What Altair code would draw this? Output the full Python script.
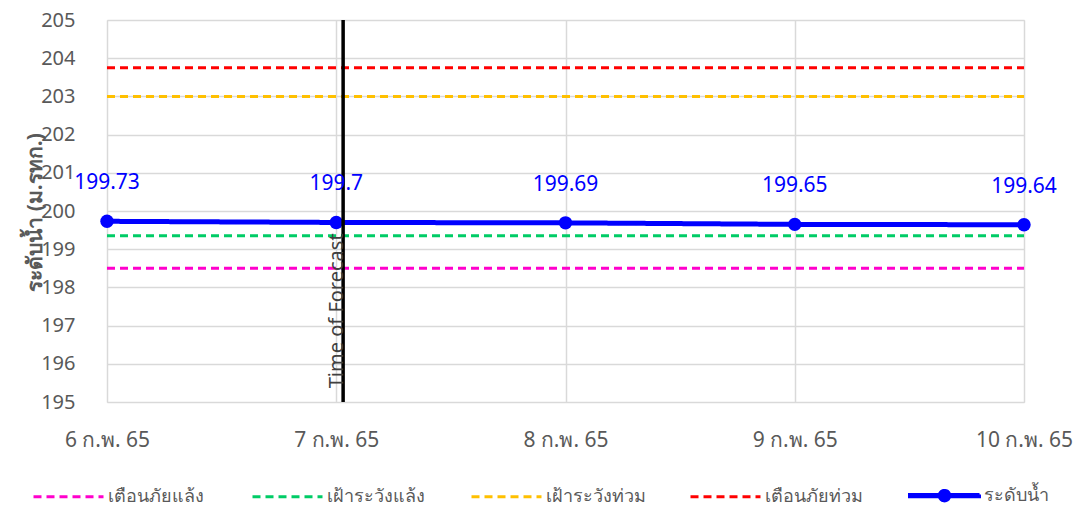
import altair as alt
import pandas as pd

# ---- data ----
days = [6, 7, 8, 9, 10]
day_labels = ["6 ก.พ. 65", "7 ก.พ. 65", "8 ก.พ. 65", "9 ก.พ. 65", "10 ก.พ. 65"]
water_level = [199.73, 199.7, 199.69, 199.65, 199.64]

threshold_names = ["เตือนภัยแล้ง", "เฝ้าระวังแล้ง", "เฝ้าระวังท่วม", "เตือนภัยท่วม"]
threshold_values = [198.5, 199.35, 203.0, 203.75]
water_name = "ระดับน้ำ"
series_colors = ["#FF00CC", "#00CC66", "#FFC000", "#FF0000", "#0000FF"]
forecast_time = [7.03]
forecast_label = ["Time of Forecast"]

# ---- tables ----
rows = []
for n, v in zip(threshold_names, threshold_values):
    for d in (days[0], days[-1]):
        rows.append({"series": n, "day": d, "value": v})
thr_df = pd.DataFrame(rows)
water_df = pd.DataFrame({"series": water_name, "day": days, "value": water_level,
                         "label": [str(v) for v in water_level]})
fc_df = pd.DataFrame({"day": forecast_time, "label": forecast_label, "value": [195.36]})

domain = threshold_names + [water_name]
label_expr = "{" + ",".join(f"'{d}':'{l}'" for d, l in zip(days, day_labels)) + "}[datum.value]"

FONT = "Noto Sans"
GREY = "#595959"

xs = alt.X("day:Q", scale=alt.Scale(domain=[6, 10], nice=False),
           axis=alt.Axis(values=days, labelExpr=label_expr, title=None, ticks=False,
                         domain=False, labelFontSize=21, labelColor=GREY, labelPadding=27,
                         labelFont=FONT, grid=True, gridColor="#D9D9D9", gridWidth=1.5,
                         labelFlush=False, labelOverlap=False))
ys = alt.Y("value:Q", scale=alt.Scale(domain=[195, 205], nice=False, zero=False),
           axis=alt.Axis(values=list(range(195, 206)), title="ระดับน้ำ (ม.รทก.)",
                         titleFontSize=21, titleColor=GREY, titleFont=FONT,
                         titleFontWeight="bold", titleX=-62, titleY=192,
                         ticks=False, domain=False, labelFontSize=20,
                         labelColor=GREY, labelFont=FONT, labelPadding=32,
                         labelOverlap=False,
                         grid=True, gridColor="#D9D9D9", gridWidth=1.5))

# legend symbol for the water level: a line with a dot in the middle (unit coords)
water_sym = ("M-1,-0.035H1V0.035H-1Z "
             "M-0.15,0A0.15,0.15 0 1,1 0.15,0A0.15,0.15 0 1,1 -0.15,0Z")
is_water = f"datum.value === '{water_name}'"
color = alt.Color("series:N", scale=alt.Scale(domain=domain, range=series_colors),
                  legend=alt.Legend(title=None, orient="none", direction="horizontal",
                                    legendX=-75, legendY=439,
                                    symbolType={"expr": f"{is_water} ? '{water_sym}' : 'stroke'"},
                                    symbolFillColor={"expr": f"{is_water} ? '#0000FF' : 'transparent'"},
                                    symbolStrokeWidth={"expr": "3"},
                                    symbolSize=4900,
                                    labelFontSize=18, labelColor=GREY, labelFont=FONT,
                                    columnPadding=38, gridAlign="all", labelLimit=200,
                                    labelOffset=3))
dash = alt.StrokeDash("series:N", scale=alt.Scale(domain=domain,
                      range=[[8, 5], [8, 5], [8, 5], [8, 5], [1, 0]]), legend=None)

thr = alt.Chart(thr_df).mark_line(strokeWidth=3).encode(x=xs, y=ys, color=color, strokeDash=dash)
water_line = alt.Chart(water_df).mark_line(strokeWidth=5).encode(x=xs, y=ys, color=color, strokeDash=dash)
water_pts = alt.Chart(water_df).mark_point(filled=True, size=180, opacity=1, color="#0000FF").encode(x=xs, y=ys)
water_txt = alt.Chart(water_df).mark_text(dy=-38, fontSize=21, color="#0000FF", font=FONT).encode(
    x=xs, y=ys, text="label:N")
rule = alt.Chart(fc_df).mark_rule(color="black", strokeWidth=3.5).encode(x=xs)
rule_txt = alt.Chart(fc_df).mark_text(angle=270, align="left", baseline="middle", dy=-6,
                                      fontSize=20, color="#404040", font=FONT).encode(
    x=xs, y=ys, text="label:N")

chart = alt.layer(thr, water_line, water_pts, rule, rule_txt, water_txt).properties(
    width=917, height=382,
    autosize=alt.AutoSizeParams(type="none"),
    padding={"left": 99, "top": 12, "right": 49, "bottom": 105},
).configure_view(stroke=None).configure(background="white")

chart.save("out.html", embed_options={"renderer": "svg", "actions": False})
